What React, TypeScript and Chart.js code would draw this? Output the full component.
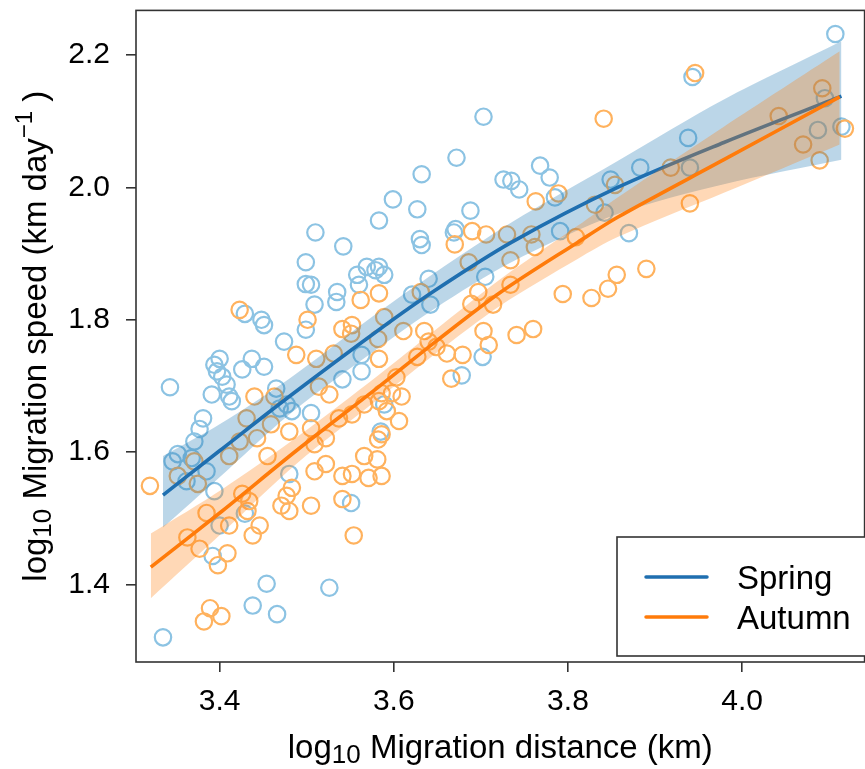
import { useEffect, useRef } from 'react';
import { Chart, registerables } from 'chart.js';

Chart.register(...registerables);

const FONT = '"Liberation Sans", Arial, Helvetica, sans-serif';

// Axis ranges and ticks
const X_MIN = 3.304;
const X_MAX = 4.1406;
const Y_MIN = 1.2827;
const Y_MAX = 2.2677;
const xTicks = [3.4, 3.6, 3.8, 4.0];
const yTicks = [1.4, 1.6, 1.8, 2.0, 2.2];

// Spring observations
const springX = [
  4.107, 3.943, 3.703, 3.938, 3.672, 3.768, 3.883, 3.940, 3.632, 3.726,
  3.735, 3.744, 3.779, 3.849, 3.599, 3.785, 3.627, 3.688, 3.842, 3.583,
  3.510, 3.542, 3.669, 3.671, 3.630, 3.632, 3.791, 3.870, 4.087, 4.114,
  4.095, 3.499, 3.499, 3.505, 3.535, 3.534, 3.558, 3.569, 3.579, 3.560,
  3.509, 3.429, 3.448, 3.451, 3.499, 3.474, 3.394, 3.400, 3.397, 3.403,
  3.426, 3.437, 3.451, 3.343, 3.391, 3.408, 3.411, 3.414, 3.465, 3.477,
  3.469, 3.483, 3.563, 3.541, 3.563, 3.505, 3.381, 3.377, 3.371, 3.368,
  3.352, 3.346, 3.362, 3.385, 3.394, 3.392, 3.400, 3.429, 3.480, 3.551,
  3.454, 3.526, 3.438, 3.466, 3.335, 3.702, 3.678, 3.589, 3.585, 3.583,
  3.589, 3.640, 3.642, 3.621, 3.705
];
const springY = [
  2.232, 2.167, 2.107, 2.075, 2.045, 2.033, 2.030, 2.030, 2.020, 2.012,
  2.010, 1.997, 2.015, 2.012, 1.982, 1.985, 1.967, 1.965, 1.962, 1.950,
  1.932, 1.911, 1.932, 1.937, 1.922, 1.913, 1.934, 1.931, 2.087, 2.092,
  2.135, 1.887, 1.854, 1.853, 1.842, 1.827, 1.868, 1.880, 1.875, 1.853,
  1.823, 1.809, 1.800, 1.792, 1.785, 1.767, 1.732, 1.741, 1.722, 1.714,
  1.725, 1.741, 1.729, 1.698, 1.687, 1.702, 1.684, 1.677, 1.696, 1.672,
  1.666, 1.662, 1.747, 1.710, 1.722, 1.659, 1.651, 1.635, 1.616, 1.591,
  1.597, 1.586, 1.556, 1.571, 1.541, 1.443, 1.489, 1.507, 1.567, 1.523,
  1.401, 1.395, 1.368, 1.355, 1.320, 1.744, 1.716, 1.672, 1.631, 1.880,
  1.868, 1.862, 1.823, 1.838, 1.865
];

// Autumn observations
const autumnX = [
  3.946, 3.841, 4.042, 4.092, 4.118, 4.070, 4.089, 3.918, 3.940, 3.763,
  3.789, 3.854, 3.690, 3.706, 3.730, 3.758, 3.670, 3.809, 3.890, 3.856,
  3.846, 3.794, 3.827, 3.760, 3.741, 3.703, 3.709, 3.679, 3.661, 3.666,
  3.635, 3.640, 3.649, 3.627, 3.611, 3.582, 3.583, 3.603, 3.586, 3.598,
  3.609, 3.583, 3.592, 3.606, 3.586, 3.582, 3.689, 3.714, 3.734, 3.562,
  3.423, 3.501, 3.488, 3.511, 3.531, 3.541, 3.551, 3.552, 3.514, 3.526,
  3.440, 3.463, 3.431, 3.459, 3.443, 3.423, 3.411, 3.480, 3.505, 3.509,
  3.522, 3.537, 3.552, 3.566, 3.320, 3.385, 3.363, 3.377, 3.409, 3.398,
  3.411, 3.426, 3.434, 3.432, 3.438, 3.446, 3.455, 3.483, 3.477, 3.471,
  3.480, 3.505, 3.509, 3.522, 3.541, 3.552, 3.571, 3.566, 3.541, 3.554,
  3.389, 3.402, 3.382, 3.586, 3.581, 3.352, 3.375, 3.371, 3.583, 3.589,
  3.631, 3.686, 3.734, 3.762, 3.697, 3.831
];
const autumnY = [
  2.173, 2.104, 2.108, 2.150, 2.089, 2.065, 2.041, 2.030, 1.976, 1.979,
  1.991, 2.004, 1.934, 1.929, 1.929, 1.929, 1.914, 1.925, 1.877, 1.868,
  1.847, 1.839, 1.833, 1.786, 1.777, 1.783, 1.762, 1.747, 1.749, 1.711,
  1.783, 1.767, 1.759, 1.744, 1.783, 1.771, 1.741, 1.713, 1.689, 1.689,
  1.684, 1.677, 1.662, 1.647, 1.627, 1.619, 1.824, 1.823, 1.890, 1.830,
  1.815, 1.800, 1.747, 1.741, 1.749, 1.786, 1.779, 1.792, 1.699, 1.687,
  1.684, 1.684, 1.651, 1.642, 1.621, 1.616, 1.594, 1.631, 1.636, 1.612,
  1.621, 1.651, 1.657, 1.672, 1.549, 1.508, 1.471, 1.454, 1.447, 1.429,
  1.489, 1.537, 1.526, 1.511, 1.474, 1.489, 1.594, 1.546, 1.534, 1.519,
  1.511, 1.519, 1.571, 1.582, 1.564, 1.567, 1.561, 1.594, 1.529, 1.474,
  1.364, 1.352, 1.344, 1.564, 1.589, 1.564, 1.552, 1.586, 1.840, 1.804,
  1.842, 1.887, 1.853, 1.910, 1.842, 1.974
];

// Fitted curves with confidence bands
const springFitX = [3.335, 3.40, 3.48, 3.583, 3.648, 3.735, 3.857, 3.979, 4.114];
const springFitY = [1.535, 1.602, 1.684, 1.785, 1.845, 1.917, 2.000, 2.068, 2.138];
const springUpper = [1.594, 1.642, 1.711, 1.812, 1.872, 1.947, 2.040, 2.133, 2.221];
const springLower = [1.486, 1.562, 1.657, 1.758, 1.818, 1.887, 1.960, 2.005, 2.042];

const autumnFitX = [3.321, 3.403, 3.488, 3.583, 3.648, 3.723, 3.811, 3.857, 3.979, 4.112];
const autumnFitY = [1.426, 1.511, 1.602, 1.699, 1.767, 1.842, 1.917, 1.955, 2.042, 2.137];
const autumnUpper = [1.477, 1.544, 1.622, 1.717, 1.785, 1.862, 1.942, 1.985, 2.092, 2.206];
const autumnLower = [1.379, 1.478, 1.582, 1.681, 1.749, 1.822, 1.892, 1.925, 1.992, 2.065];

const seriesNames = ['Spring', 'Autumn'];

const SPRING_PT = '#8cc3e3';
const AUTUMN_PT = '#ffb25e';
const SPRING_LINE = '#1f6fb0';
const AUTUMN_LINE = '#ff7b0a';
const SPRING_BAND = 'rgba(31,119,180,0.30)';
const AUTUMN_BAND = 'rgba(255,127,14,0.30)';

const zip = (xs: number[], ys: number[]) => xs.map((x, i) => ({ x, y: ys[i] }));

type Part = { t: string; size: number; dy: number };

function drawParts(ctx: CanvasRenderingContext2D, parts: Part[], cx: number, baseY: number) {
  let total = 0;
  parts.forEach((p) => {
    ctx.font = `${p.size}px ${FONT}`;
    total += ctx.measureText(p.t).width;
  });
  let x = cx - total / 2;
  ctx.textAlign = 'left';
  ctx.textBaseline = 'alphabetic';
  parts.forEach((p) => {
    ctx.font = `${p.size}px ${FONT}`;
    ctx.fillText(p.t, x, baseY + p.dy);
    x += ctx.measureText(p.t).width;
  });
}

const decorPlugin = {
  id: 'decor',
  afterDraw(chart: any) {
    const { ctx, chartArea } = chart;
    const { left, right, top, bottom } = chartArea;
    ctx.save();
    // plot frame
    ctx.strokeStyle = '#333';
    ctx.lineWidth = 1.6;
    ctx.strokeRect(left, top, right - left, bottom - top);

    ctx.fillStyle = '#000';
    // x title
    drawParts(
      ctx,
      [
        { t: 'log', size: 33, dy: 0 },
        { t: '10', size: 26, dy: 5 },
        { t: ' Migration distance (km)', size: 33, dy: 0 },
      ],
      (left + right) / 2,
      758
    );
    // y title
    ctx.save();
    ctx.translate(46, (top + bottom) / 2);
    ctx.rotate(-Math.PI / 2);
    drawParts(
      ctx,
      [
        { t: 'log', size: 33, dy: 0 },
        { t: '10', size: 26, dy: 5 },
        { t: ' Migration speed (km day', size: 33, dy: 0 },
        { t: '\u22121', size: 24, dy: -14 },
        { t: ' )', size: 33, dy: 0 },
      ],
      0,
      0
    );
    ctx.restore();

    // legend
    const lx = 617;
    const ly = 537;
    const lb = 656;
    ctx.fillStyle = '#fff';
    ctx.fillRect(lx, ly, right + 5 - lx, lb - ly);
    ctx.strokeStyle = '#333';
    ctx.lineWidth = 1.6;
    ctx.strokeRect(lx, ly, right + 5 - lx, lb - ly);
    const rows = [
      { name: seriesNames[0], color: SPRING_LINE, y: 577 },
      { name: seriesNames[1], color: AUTUMN_LINE, y: 617 },
    ];
    rows.forEach((r) => {
      ctx.strokeStyle = r.color;
      ctx.lineWidth = 3.5;
      ctx.lineCap = 'round';
      ctx.beginPath();
      ctx.moveTo(646, r.y);
      ctx.lineTo(707, r.y);
      ctx.stroke();
      ctx.fillStyle = '#000';
      ctx.font = `33px ${FONT}`;
      ctx.textAlign = 'left';
      ctx.textBaseline = 'alphabetic';
      ctx.fillText(r.name, 737, r.y + 12);
    });
    ctx.restore();
  },
};

export default function App() {
  const ref = useRef<HTMLCanvasElement>(null);

  useEffect(() => {
    if (!ref.current) return;
    const lineBase = {
      type: 'line' as const,
      showLine: true,
      pointRadius: 0,
      borderWidth: 0,
      tension: 0.3,
    };
    const chart = new Chart(ref.current, {
      type: 'scatter',
      data: {
        datasets: [
          {
            label: seriesNames[0],
            data: zip(springX, springY),
            pointStyle: 'circle',
            pointRadius: 8.2,
            borderWidth: 2.2,
            borderColor: SPRING_PT,
            backgroundColor: 'rgba(0,0,0,0)',
            order: 10,
          },
          {
            label: seriesNames[1],
            data: zip(autumnX, autumnY),
            pointStyle: 'circle',
            pointRadius: 8.2,
            borderWidth: 2.2,
            borderColor: AUTUMN_PT,
            backgroundColor: 'rgba(0,0,0,0)',
            order: 9,
          },
          {
            ...lineBase,
            label: 'spring lower',
            data: zip(springFitX, springLower),
            borderColor: 'rgba(0,0,0,0)',
            fill: false,
            order: 8,
          },
          {
            ...lineBase,
            label: 'spring upper',
            data: zip(springFitX, springUpper),
            borderColor: 'rgba(0,0,0,0)',
            backgroundColor: SPRING_BAND,
            fill: '-1',
            order: 7,
          },
          {
            ...lineBase,
            label: 'spring fit',
            data: zip(springFitX, springFitY),
            borderColor: SPRING_LINE,
            borderWidth: 3.6,
            fill: false,
            order: 6,
          },
          {
            ...lineBase,
            label: 'autumn lower',
            data: zip(autumnFitX, autumnLower),
            borderColor: 'rgba(0,0,0,0)',
            fill: false,
            order: 5,
          },
          {
            ...lineBase,
            label: 'autumn upper',
            data: zip(autumnFitX, autumnUpper),
            borderColor: 'rgba(0,0,0,0)',
            backgroundColor: AUTUMN_BAND,
            fill: '-1',
            order: 4,
          },
          {
            ...lineBase,
            label: 'autumn fit',
            data: zip(autumnFitX, autumnFitY),
            borderColor: AUTUMN_LINE,
            borderWidth: 3.6,
            fill: false,
            order: 3,
          },
        ] as any,
      },
      options: {
        animation: false,
        responsive: true,
        maintainAspectRatio: false,
        events: [],
        layout: { padding: { top: 7, right: 7, left: 0, bottom: 0 } },
        plugins: {
          legend: { display: false },
          tooltip: { enabled: false },
          title: { display: false },
        },
        scales: {
          x: {
            type: 'linear',
            min: X_MIN,
            max: X_MAX,
            afterBuildTicks: (s: any) => {
              s.ticks = xTicks.map((v) => ({ value: v }));
            },
            afterFit: (s: any) => {
              s.height = 107;
              s.paddingLeft = 0;
              s.paddingRight = 0;
              s.paddingTop = 0;
              s.paddingBottom = 0;
            },
            border: { display: false },
            grid: {
              drawOnChartArea: false,
              drawTicks: true,
              tickLength: 10,
              color: '#333',
              lineWidth: 1.6,
            },
            ticks: {
              color: '#000',
              font: { family: FONT, size: 30 },
              padding: 12,
              maxRotation: 0,
              autoSkip: false,
              callback: (v: any) => Number(v).toFixed(1),
            },
          },
          y: {
            type: 'linear',
            min: Y_MIN,
            max: Y_MAX,
            afterBuildTicks: (s: any) => {
              s.ticks = yTicks.map((v) => ({ value: v }));
            },
            afterFit: (s: any) => {
              s.width = 136;
              s.paddingLeft = 0;
              s.paddingRight = 0;
              s.paddingTop = 0;
              s.paddingBottom = 0;
            },
            border: { display: false },
            grid: {
              drawOnChartArea: false,
              drawTicks: true,
              tickLength: 10,
              color: '#333',
              lineWidth: 1.6,
            },
            ticks: {
              color: '#000',
              font: { family: FONT, size: 30 },
              padding: 16,
              autoSkip: false,
              callback: (v: any) => Number(v).toFixed(1),
            },
          },
        },
      } as any,
      plugins: [decorPlugin],
    });
    return () => chart.destroy();
  }, []);

  return (
    <div
      style={{
        position: 'absolute',
        left: 0,
        top: 0,
        width: 865,
        height: 769,
        overflow: 'hidden',
        background: '#fff',
      }}
    >
      <div style={{ position: 'relative', width: 875, height: 769 }}>
        <canvas ref={ref} />
      </div>
    </div>
  );
}
